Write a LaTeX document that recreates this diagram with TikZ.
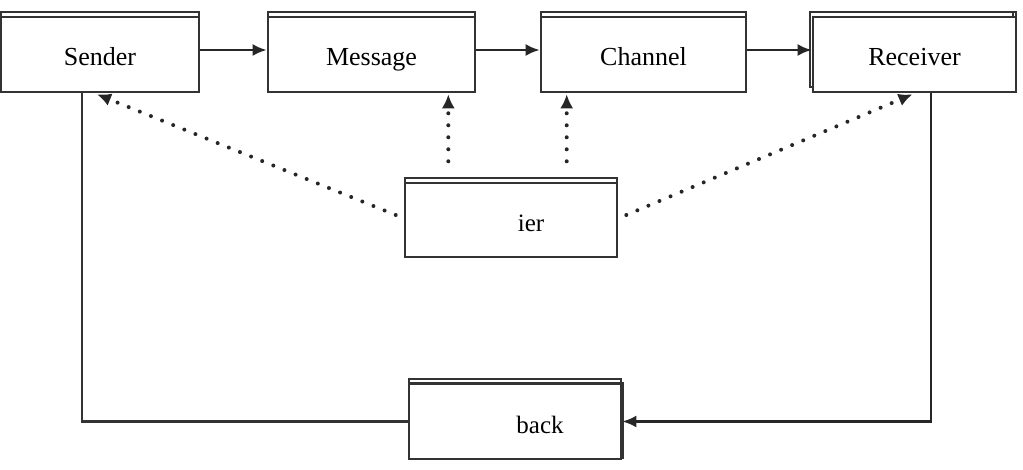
\documentclass[tikz,border=0pt]{standalone}
\usepackage{fontspec}
\setmainfont{Liberation Serif}
\usetikzlibrary{arrows.meta,shadows}
\begin{document}
\begin{tikzpicture}[x=1pt,y=-1pt,
  box/.style={draw=black!80,line width=2.6pt,fill=white,minimum height=75pt,inner sep=0pt,
    text height=22pt,text depth=0pt,
    font=\fontsize{26}{30}\selectfont,
    copy shadow={shadow xshift=0pt,shadow yshift=5pt}},
  lbl/.style={inner sep=0pt,font=\fontsize{25}{30}\selectfont},
  solidarrow/.style={draw=black!85,line width=2.6pt,-{Latex[length=14pt,width=12pt]}},
  plainline/.style={draw=black!80,line width=2.6pt},
  dotarrow/.style={draw=black!85,line width=4pt,line cap=round,dash pattern=on 0pt off 12pt,
    -{Latex[length=14pt,width=13pt]}}]
\useasboundingbox (0,0) rectangle (1023,470);
\node[box,minimum width=198pt] (S) at (100,54.5) {Sender};
\node[box,minimum width=207pt] (M) at (371.5,54.5) {Message};
\node[box,minimum width=205pt] (C) at (643.5,54.5) {Channel};
\node[box,minimum width=203pt,copy shadow={shadow xshift=-3pt,shadow yshift=5pt}] (R) at (914.5,54.5) {Receiver};
\node[box,minimum width=212pt,minimum height=74pt] (B) at (511,220) {};
\node[lbl] (Bt) at (531,223) {ier};
\node[box,minimum width=212pt,copy shadow={shadow xshift=2pt,shadow yshift=1pt}] (F) at (515,421.5) {};
\node[lbl] (Ft) at (540,425) {back};
\draw[solidarrow] (S.east |- 0,50) -- (M.west |- 0,50);
\draw[solidarrow] (M.east |- 0,50) -- (C.west |- 0,50);
\draw[solidarrow] (C.east |- 0,50) -- (R.west |- 0,50);
\coordinate (fl) at (82,421.5);
\coordinate (fr) at (931,421.5);
\draw[plainline] (S.south -| fl) -- (fl) -- (F.west);
\draw[solidarrow] (R.south -| fr) -- (fr) -- (F.east);
\draw[dotarrow] ([xshift=-8pt,yshift=5pt]B.west) -- ([xshift=-3pt,yshift=-1pt]S.south);
\draw[dotarrow] ([xshift=8pt,yshift=5pt]B.east) -- ([xshift=-2pt,yshift=-1pt]R.south);
\draw[dotarrow] ([xshift=-28pt,yshift=-68pt]M.south east) -- ([xshift=-28pt,yshift=-1pt]M.south east);
\draw[dotarrow] ([xshift=27pt,yshift=-68pt]C.south west) -- ([xshift=27pt,yshift=-1pt]C.south west);
\end{tikzpicture}
\end{document}
